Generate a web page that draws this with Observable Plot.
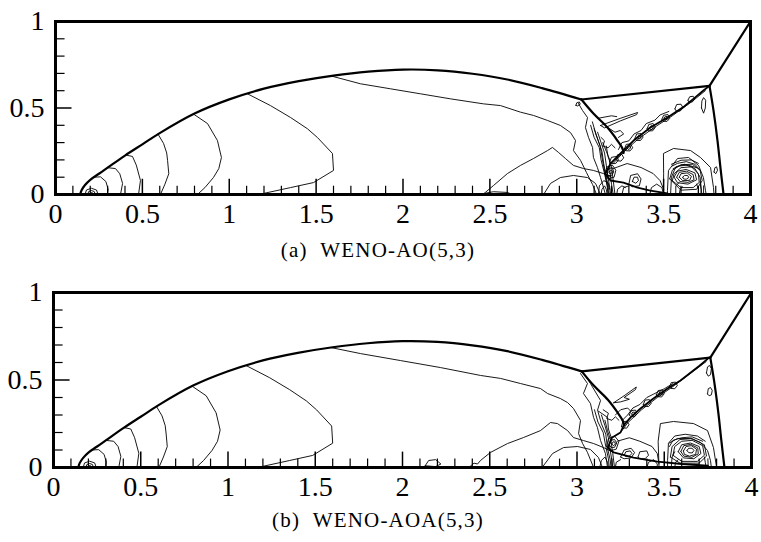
<!DOCTYPE html>
<html>
<head>
<meta charset="utf-8">
<script src="https://cdn.jsdelivr.net/npm/d3@7"></script>
<script src="https://cdn.jsdelivr.net/npm/@observablehq/plot@0.6"></script>
<style>
  html, body { margin: 0; padding: 0; background: #fff; }
  #wrap { width: 761px; }
  svg text { font-family: "Liberation Serif", serif !important; font-size: 28px !important; font-variant: normal !important; fill: #000; }
  .cap { width: 761px; height: 28px; line-height: 28px; font-family: "Liberation Serif", serif; font-size: 21px; letter-spacing: 1.2px; white-space: pre; text-align: center; box-sizing: border-box; padding-right: 5px; color: #000; }
</style>
</head>
<body>
<div id="wrap"></div>
<script>
// ---------- tick data ----------
const xTickLabels = [0, 0.5, 1, 1.5, 2, 2.5, 3, 3.5, 4];
const yTickLabels = [0, 0.5, 1];
const xMajorTicks = [0.5, 1, 1.5, 2, 2.5, 3, 3.5];
const xMinorTicks = [0.1,0.2,0.3,0.4,0.6,0.7,0.8,0.9,1.1,1.2,1.3,1.4,1.6,1.7,1.8,1.9,2.1,2.2,2.3,2.4,2.6,2.7,2.8,2.9,3.1,3.2,3.3,3.4,3.6,3.7,3.8,3.9];
const yMajorTicks = [0.5];
const yMinorTicks = [0.1,0.2,0.3,0.4,0.6,0.7,0.8,0.9];
const captions = ["(a)  WENO-AO(5,3)", "(b)  WENO-AOA(5,3)"];

// ---------- shocks (shared) ----------
const bowShock = [[0.142,0],[0.15,0.025],[0.17,0.055],[0.2,0.085],[0.25,0.12],[0.3,0.155],[0.4,0.225],[0.5,0.29],[0.6,0.355],[0.8,0.468],[1.0,0.55],[1.2,0.612],[1.4,0.655],[1.6,0.687],[1.8,0.71],[2.0,0.722],[2.2,0.718],[2.4,0.698],[2.6,0.665],[2.8,0.615],[3.027,0.549]];
const reflectedShock = [[3.027,0.549],[3.764,0.628]];
const incidentShock = [[3.764,0.628],[4.0,1.0]];
const machStem = [[3.764,0.628],[3.787,0.486],[3.810,0.312],[3.827,0.156],[3.845,0]];
const secondStem = [[3.027,0.549],[3.096,0.468],[3.177,0.387],[3.234,0.312],[3.263,0.266],[3.27,0.24]];

// ---------- left arcs (shared) ----------
const leftArcs = [
  [[0.196,0],[0.199,0.008],[0.207,0.012],[0.215,0.008],[0.218,0]],
  [[0.185,0],[0.191,0.017],[0.207,0.023],[0.223,0.017],[0.229,0]],
  [[0.17,0],[0.178,0.026],[0.207,0.036],[0.236,0.026],[0.245,0]],
  [[0.22,0.1],[0.259,0.102],[0.29,0.075],[0.303,0.03],[0.299,0]],
  [[0.3,0.155],[0.345,0.15],[0.37,0.12],[0.386,0.064],[0.374,0]],
  [[0.405,0.228],[0.443,0.22],[0.465,0.17],[0.489,0.081],[0.478,0]],
  [[0.59,0.349],[0.622,0.295],[0.64,0.24],[0.645,0.197],[0.652,0.12],[0.63,0.06],[0.604,0]],
  [[0.794,0.465],[0.875,0.410],[0.932,0.312],[0.955,0.214],[0.94,0.15],[0.909,0.098],[0.86,0.04],[0.817,0]],
  [[1.105,0.582],[1.237,0.514],[1.353,0.445],[1.45,0.38],[1.508,0.329],[1.594,0.237],[1.600,0.139],[1.485,0.069],[1.353,0.040],[1.197,0.006],[1.122,0]]
];

// ---------- panel (a) ----------
const jetA = [[3.764,0.628],[3.729,0.601],[3.68,0.56],[3.62,0.51],[3.522,0.445],[3.424,0.387],[3.327,0.312],[3.252,0.237],[3.194,0.179],[3.165,0.121],[3.194,0.081],[3.269,0.069],[3.35,0.040],[3.424,0.023],[3.522,0.006]];
const contoursA = [
  [[1.583,0.686],[1.755,0.640],[1.928,0.611],[2.101,0.582],[2.273,0.553],[2.463,0.524],[2.561,0.514],[2.676,0.476],[2.751,0.457],[2.832,0.428],[2.906,0.399],[2.964,0.358],[2.993,0.312],[2.981,0.254],[3.022,0.197],[3.056,0.127],[3.091,0.058],[3.114,0]],
  [[3.010,0.526],[3.033,0.486],[3.062,0.445],[3.050,0.387],[3.068,0.329],[3.091,0.272],[3.096,0.214],[3.119,0.156],[3.137,0.098],[3.154,0.040],[3.165,0]],
  [[2.995,0.515],[3.0,0.53],[3.015,0.535],[3.02,0.522],[3.005,0.512],[2.995,0.515]],
  [[2.46,0],[2.475,0.013],[2.521,0.052],[2.601,0.121],[2.676,0.168],[2.751,0.208],[2.832,0.254],[2.860,0.272],[2.895,0.243],[2.935,0.208],[2.981,0.168],[3.039,0.150],[3.096,0.139],[3.154,0.121],[3.2,0.10]],
  [[2.46,0.005],[2.52,0.016],[2.6,0.012],[2.62,0.004],[2.52,0.003],[2.46,0.005]],
  [[2.809,0],[2.849,0.064],[2.906,0.098],[2.981,0.110],[3.062,0.098],[3.108,0.064],[3.137,0]],
  [[3.08,0.40],[3.10,0.33],[3.13,0.27],[3.14,0.2],[3.16,0.12],[3.175,0.05],[3.18,0]],
  [[3.09,0.42],[3.11,0.35],[3.135,0.28],[3.148,0.2],[3.165,0.11],[3.178,0.04],[3.183,0]],
  [[3.10,0.38],[3.12,0.32],[3.145,0.25],[3.155,0.18],[3.17,0.1],[3.183,0.04],[3.187,0]],
  [[3.12,0.36],[3.14,0.30],[3.16,0.24],[3.17,0.17],[3.18,0.10],[3.19,0.04],[3.195,0]],
  [[3.15,0.30],[3.17,0.25],[3.19,0.2],[3.19,0.14],[3.2,0.06],[3.21,0]],
  [[3.17,0.28],[3.18,0.22],[3.2,0.16],[3.21,0.08],[3.22,0]],
  [[3.14,0],[3.145,0.03],[3.16,0.05],[3.17,0.03],[3.175,0]],
  [[3.125,0],[3.13,0.05],[3.155,0.08],[3.18,0.07],[3.19,0.03]],
  [[3.16,0.12],[3.175,0.16],[3.205,0.17],[3.225,0.14],[3.215,0.10],[3.18,0.09],[3.16,0.12]],
  [[3.175,0.125],[3.185,0.15],[3.205,0.155],[3.213,0.13],[3.2,0.11],[3.18,0.11],[3.175,0.125]],
  [[3.185,0.13],[3.195,0.14],[3.205,0.135],[3.2,0.122],[3.188,0.122],[3.185,0.13]],
  [[3.19,0.19],[3.2,0.215],[3.23,0.22],[3.24,0.2],[3.225,0.18],[3.2,0.178],[3.19,0.19]],
  [[3.74,0.60],[3.66,0.535],[3.55,0.455],[3.45,0.39],[3.35,0.318],[3.27,0.245],[3.21,0.18]],
  [[3.64,0.545],[3.65,0.565],[3.67,0.568],[3.68,0.552],[3.665,0.535],[3.645,0.535],[3.64,0.545]],
  [[3.565,0.495],[3.575,0.52],[3.6,0.522],[3.612,0.5],[3.595,0.482],[3.572,0.483],[3.565,0.495]],
  [[3.49,0.435],[3.50,0.458],[3.525,0.462],[3.535,0.44],[3.52,0.423],[3.497,0.423],[3.49,0.435]],
  [[3.502,0.44],[3.51,0.452],[3.522,0.45],[3.524,0.438],[3.512,0.432],[3.502,0.44]],
  [[3.405,0.38],[3.415,0.405],[3.44,0.41],[3.452,0.388],[3.437,0.368],[3.412,0.368],[3.405,0.38]],
  [[3.418,0.385],[3.428,0.398],[3.44,0.394],[3.438,0.378],[3.424,0.375],[3.418,0.385]],
  [[3.335,0.325],[3.345,0.35],[3.37,0.352],[3.382,0.332],[3.367,0.312],[3.342,0.313],[3.335,0.325]],
  [[3.348,0.33],[3.356,0.342],[3.368,0.34],[3.37,0.328],[3.358,0.32],[3.348,0.33]],
  [[3.275,0.265],[3.285,0.29],[3.31,0.292],[3.322,0.27],[3.307,0.252],[3.282,0.253],[3.275,0.265]],
  [[3.288,0.27],[3.296,0.282],[3.308,0.28],[3.31,0.268],[3.298,0.26],[3.288,0.27]],
  [[3.225,0.205],[3.235,0.23],[3.26,0.232],[3.27,0.212],[3.255,0.193],[3.232,0.195],[3.225,0.205]],
  [[3.24,0.26],[3.26,0.30],[3.30,0.31],[3.33,0.35],[3.37,0.37],[3.40,0.41],[3.45,0.43],[3.48,0.46],[3.53,0.48]],
  [[3.14,0.33],[3.16,0.31],[3.15,0.28],[3.18,0.27],[3.2,0.29],[3.22,0.27]],
  [[3.19,0.38],[3.22,0.36],[3.25,0.37],[3.27,0.35],[3.24,0.33]],
  [[3.137,0.399],[3.25,0.44],[3.35,0.474],[3.345,0.462],[3.25,0.425],[3.16,0.385],[3.137,0.399]],
  [[3.12,0.44],[3.20,0.455],[3.23,0.45]],
  [[3.30,0.06],[3.31,0.11],[3.35,0.12],[3.37,0.09],[3.36,0.05],[3.32,0.045],[3.30,0.06]],
  [[3.32,0.075],[3.33,0.1],[3.35,0.1],[3.355,0.08],[3.34,0.065],[3.32,0.075]],
  [[3.26,0],[3.27,0.04],[3.30,0.05]],
  [[3.23,0],[3.235,0.03],[3.26,0.05],[3.28,0.04]],
  [[3.42,0],[3.43,0.04],[3.46,0.06],[3.49,0.04],[3.5,0]],
  [[3.21,0.15],[3.29,0.179],[3.37,0.156],[3.44,0.121],[3.48,0.08],[3.5,0.03]],
  [[3.499,0],[3.50,0.12],[3.499,0.237],[3.557,0.266],[3.655,0.254],[3.712,0.214],[3.77,0.156],[3.787,0.04],[3.79,0]],
  [[3.522,0],[3.522,0.023],[3.528,0.139],[3.580,0.208],[3.643,0.214],[3.701,0.168],[3.729,0.098],[3.741,0.023],[3.745,0]],
  [[3.54,0],[3.545,0.1],[3.57,0.16],[3.62,0.175],[3.68,0.15],[3.71,0.1],[3.72,0]],
  [[3.535,0.09],[3.55,0.14],[3.6,0.172],[3.665,0.175],[3.71,0.14],[3.722,0.08],[3.69,0.03],[3.6,0.025],[3.535,0.09]],
  [[3.55,0.08],[3.56,0.12],[3.6,0.155],[3.66,0.16],[3.70,0.12],[3.705,0.07],[3.67,0.04],[3.6,0.04],[3.55,0.08]],
  [[3.56,0.10],[3.58,0.135],[3.63,0.145],[3.68,0.125],[3.69,0.085],[3.64,0.06],[3.58,0.068],[3.56,0.10]],
  [[3.575,0.10],[3.59,0.128],[3.632,0.135],[3.67,0.115],[3.675,0.085],[3.64,0.07],[3.595,0.075],[3.575,0.10]],
  [[3.59,0.10],[3.60,0.12],[3.635,0.125],[3.66,0.105],[3.65,0.082],[3.61,0.08],[3.59,0.10]],
  [[3.61,0.10],[3.62,0.11],[3.638,0.11],[3.645,0.098],[3.63,0.088],[3.615,0.09],[3.61,0.10]],
  [[3.55,0.165],[3.58,0.18],[3.63,0.19],[3.68,0.175],[3.71,0.14]],
  [[3.555,0.15],[3.59,0.165],[3.64,0.17],[3.69,0.155]],
  [[3.545,0.175],[3.6,0.198],[3.66,0.2],[3.7,0.18]],
  [[3.57,0],[3.57,0.05],[3.59,0.07]],
  [[3.59,0],[3.595,0.03],[3.61,0.045]],
  [[3.69,0.06],[3.70,0.03],[3.70,0]],
  [[3.71,0.07],[3.715,0.03],[3.715,0]],
  [[3.73,0.05],[3.73,0]],
  [[3.718,0.50],[3.72,0.54],[3.73,0.56],[3.742,0.545],[3.74,0.50],[3.73,0.47],[3.718,0.50]],
  [[3.79,0.13],[3.795,0.155],[3.805,0.16],[3.81,0.14],[3.8,0.12],[3.79,0.13]]
];

// ---------- panel (b) ----------
const jetB = [[3.759,0.629],[3.70,0.58],[3.593,0.497],[3.519,0.451],[3.438,0.394],[3.364,0.337],[3.307,0.286],[3.267,0.24],[3.249,0.2],[3.20,0.17],[3.177,0.114],[3.21,0.086],[3.324,0.057],[3.461,0.034],[3.60,0.02],[3.75,0.01]];
const contoursB = [
  [[1.587,0.686],[1.759,0.651],[1.989,0.611],[2.218,0.571],[2.447,0.526],[2.562,0.509],[2.676,0.48],[2.791,0.451],[2.831,0.423],[2.905,0.394],[2.946,0.371],[2.98,0.337],[3.02,0.269],[3.009,0.194],[3.032,0.137],[3.06,0.086],[3.095,0]],
  [[2.38,0],[2.41,0.025],[2.43,0.02],[2.447,0.04],[2.504,0.086],[2.602,0.137],[2.693,0.171],[2.791,0.211],[2.848,0.257],[2.888,0.251],[2.946,0.211],[2.98,0.171],[3.037,0.154],[3.095,0.137],[3.152,0.114],[3.2,0.09]],
  [[2.13,0.01],[2.15,0.04],[2.19,0.045],[2.22,0.02],[2.19,0.005],[2.13,0.01]],
  [[2.80,0],[2.86,0.08],[2.923,0.114],[3.003,0.12],[3.077,0.103],[3.123,0.057],[3.146,0]],
  [[3.02,0.537],[3.06,0.48],[3.037,0.423],[3.077,0.366],[3.095,0.286],[3.117,0.229],[3.135,0.154],[3.163,0.08],[3.175,0]],
  [[3.05,0.52],[3.077,0.48],[3.135,0.383],[3.117,0.326],[3.175,0.286],[3.18,0.22],[3.2,0.16]],
  [[3.10,0.33],[3.12,0.26],[3.15,0.2],[3.165,0.12],[3.18,0.05],[3.185,0]],
  [[3.12,0.32],[3.14,0.25],[3.165,0.19],[3.175,0.11],[3.19,0.045],[3.195,0]],
  [[3.14,0.30],[3.16,0.24],[3.18,0.17],[3.19,0.10],[3.20,0.04],[3.205,0]],
  [[3.16,0.27],[3.175,0.21],[3.195,0.15],[3.205,0.08],[3.215,0]],
  [[3.13,0],[3.14,0.04],[3.16,0.06],[3.175,0.03],[3.18,0]],
  [[3.17,0.12],[3.18,0.165],[3.215,0.18],[3.24,0.15],[3.225,0.105],[3.19,0.095],[3.17,0.12]],
  [[3.185,0.13],[3.195,0.155],[3.215,0.16],[3.228,0.14],[3.215,0.115],[3.195,0.115],[3.185,0.13]],
  [[3.2,0.135],[3.207,0.147],[3.218,0.145],[3.22,0.133],[3.208,0.125],[3.2,0.135]],
  [[3.74,0.605],[3.66,0.545],[3.56,0.47],[3.46,0.40],[3.37,0.33],[3.29,0.255],[3.25,0.2]],
  [[3.53,0.46],[3.54,0.485],[3.565,0.488],[3.575,0.468],[3.56,0.45],[3.538,0.452],[3.53,0.46]],
  [[3.455,0.415],[3.465,0.44],[3.49,0.443],[3.50,0.422],[3.485,0.403],[3.462,0.405],[3.455,0.415]],
  [[3.468,0.42],[3.475,0.432],[3.487,0.43],[3.49,0.418],[3.478,0.412],[3.468,0.42]],
  [[3.38,0.36],[3.39,0.385],[3.415,0.388],[3.425,0.366],[3.41,0.348],[3.387,0.35],[3.38,0.36]],
  [[3.30,0.30],[3.31,0.325],[3.335,0.328],[3.345,0.308],[3.33,0.29],[3.307,0.292],[3.30,0.30]],
  [[3.313,0.305],[3.32,0.317],[3.332,0.315],[3.334,0.303],[3.322,0.297],[3.313,0.305]],
  [[3.255,0.235],[3.262,0.26],[3.285,0.265],[3.298,0.245],[3.285,0.225],[3.262,0.226],[3.255,0.235]],
  [[3.26,0.27],[3.29,0.30],[3.32,0.34],[3.36,0.36],[3.40,0.40],[3.44,0.42],[3.50,0.45],[3.55,0.48]],
  [[3.15,0.33],[3.18,0.31],[3.17,0.28],[3.2,0.27],[3.22,0.29],[3.24,0.27]],
  [[3.21,0.37],[3.27,0.41],[3.34,0.46],[3.335,0.445],[3.27,0.40],[3.30,0.39],[3.25,0.375],[3.21,0.37]],
  [[3.22,0.30],[3.25,0.33],[3.29,0.34],[3.31,0.32]],
  [[3.25,0.06],[3.27,0.10],[3.31,0.11],[3.33,0.085],[3.31,0.055],[3.27,0.05],[3.25,0.06]],
  [[3.27,0.07],[3.28,0.09],[3.305,0.095],[3.315,0.08],[3.3,0.065],[3.28,0.062],[3.27,0.07]],
  [[3.35,0.06],[3.36,0.09],[3.40,0.095],[3.41,0.07],[3.39,0.05],[3.36,0.05],[3.35,0.06]],
  [[3.23,0.15],[3.30,0.17],[3.36,0.15],[3.43,0.12],[3.46,0.08],[3.47,0.02]],
  [[3.40,0],[3.41,0.03],[3.44,0.045],[3.46,0.02],[3.46,0]],
  [[3.22,0],[3.225,0.03],[3.25,0.045]],
  [[3.47,0],[3.465,0.15],[3.478,0.251],[3.553,0.263],[3.668,0.251],[3.748,0.211],[3.782,0.114],[3.80,0]],
  [[3.519,0],[3.519,0.04],[3.524,0.137],[3.576,0.166],[3.65,0.166],[3.708,0.143],[3.748,0.097],[3.765,0.04],[3.77,0]],
  [[3.535,0.06],[3.545,0.12],[3.59,0.16],[3.66,0.165],[3.73,0.13],[3.742,0.065],[3.70,0.025],[3.59,0.025],[3.535,0.06]],
  [[3.55,0.07],[3.56,0.12],[3.6,0.15],[3.66,0.155],[3.72,0.125],[3.73,0.07],[3.69,0.035],[3.6,0.035],[3.55,0.07]],
  [[3.58,0.09],[3.60,0.13],[3.65,0.14],[3.7,0.12],[3.71,0.08],[3.67,0.05],[3.61,0.055],[3.58,0.09]],
  [[3.595,0.092],[3.612,0.125],[3.652,0.132],[3.692,0.112],[3.695,0.078],[3.658,0.058],[3.612,0.065],[3.595,0.092]],
  [[3.61,0.095],[3.625,0.12],[3.655,0.125],[3.685,0.105],[3.68,0.075],[3.645,0.065],[3.615,0.075],[3.61,0.095]],
  [[3.63,0.097],[3.64,0.11],[3.66,0.11],[3.67,0.097],[3.66,0.083],[3.64,0.085],[3.63,0.097]],
  [[3.53,0.12],[3.55,0.155],[3.60,0.17],[3.66,0.175],[3.72,0.15]],
  [[3.525,0.14],[3.56,0.18],[3.62,0.19],[3.69,0.18],[3.735,0.15]],
  [[3.54,0],[3.545,0.06],[3.56,0.09]],
  [[3.56,0],[3.565,0.03],[3.58,0.045]],
  [[3.73,0.06],[3.735,0.03],[3.74,0]],
  [[3.75,0.05],[3.752,0]],
  [[3.742,0.54],[3.748,0.575],[3.76,0.583],[3.77,0.565],[3.765,0.53],[3.752,0.522],[3.742,0.54]],
  [[3.748,0.42],[3.752,0.45],[3.765,0.457],[3.775,0.44],[3.77,0.415],[3.757,0.41],[3.748,0.42]]
];

// ---------- build ----------
function rows(lines, prefix) {
  return lines.flatMap((pts, i) => pts.map(([x, y]) => ({x, y, id: prefix + i})));
}
const shockRows = rows([bowShock, reflectedShock, incidentShock, machStem, secondStem], "s");

function panel(jet, contours, m) {
  const thin = rows(leftArcs, "l").concat(rows(contours, "c"));
  return Plot.plot({
    width: 761,
    height: m.height,
    marginLeft: m.left, marginRight: m.right, marginTop: m.top, marginBottom: m.bottom,
    x: {domain: [0, 4], label: null},
    y: {domain: [0, 1], label: null},
    style: {fontFamily: "'Liberation Serif', serif", fontSize: "28px", color: "#000", background: "#fff"},
    marks: [
      Plot.line(thin, {x: "x", y: "y", z: "id", stroke: "#000", strokeWidth: 0.9, clip: true}),
      Plot.line(rows([jet], "j"), {x: "x", y: "y", z: "id", stroke: "#000", strokeWidth: 1.8, clip: true}),
      Plot.line(shockRows, {x: "x", y: "y", z: "id", stroke: "#000", strokeWidth: 2.2, curve: "catmull-rom", clip: true}),
      Plot.ruleX(xMinorTicks, {x: d => d, y1: 0, y2: 0.048, stroke: "#000", strokeWidth: 1.2}),
      Plot.ruleX(xMajorTicks, {x: d => d, y1: 0, y2: 0.088, stroke: "#000", strokeWidth: 1.5}),
      Plot.ruleY(yMinorTicks, {y: d => d, x1: 0, x2: 0.055, stroke: "#000", strokeWidth: 1.2}),
      Plot.ruleY(yMajorTicks, {y: d => d, x1: 0, x2: 0.095, stroke: "#000", strokeWidth: 1.5}),
      Plot.frame({stroke: "#000", strokeWidth: 3}),
      Plot.axisX({ticks: xTickLabels, tickSize: 0, tickPadding: 9, tickFormat: d => String(d), fontSize: 28}),
      Plot.axisY({ticks: yTickLabels, tickSize: 0, tickPadding: 11, tickFormat: d => String(d), fontSize: 28})
    ]
  });
}

const wrap = document.getElementById("wrap");
wrap.appendChild(panel(jetA, contoursA, {height: 236, left: 55, right: 11, top: 21, bottom: 42}));
const c1 = document.createElement("div"); c1.className = "cap"; c1.textContent = captions[0]; wrap.appendChild(c1);
wrap.appendChild(panel(jetB, contoursB, {height: 242, left: 53, right: 10, top: 28, bottom: 39}));
const c2 = document.createElement("div"); c2.className = "cap"; c2.textContent = captions[1]; wrap.appendChild(c2);
</script>
</body>
</html>
